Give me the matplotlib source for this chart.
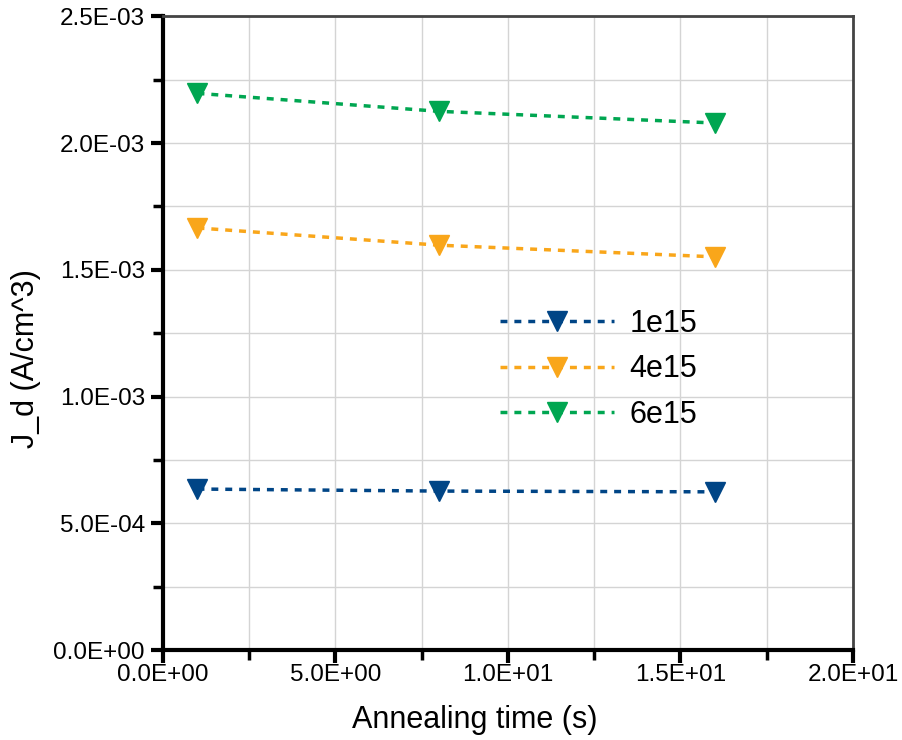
import matplotlib
matplotlib.use("Agg")
import matplotlib.pyplot as plt
from matplotlib.ticker import MultipleLocator, FormatStrFormatter

plt.rcParams['font.family'] = ['Liberation Sans', 'DejaVu Sans']

# annealing time (s)
anneal_time = [1, 8, 16]

# dark current density per fluence
jd_1e15 = [6.35e-4, 6.27e-4, 6.24e-4]
jd_4e15 = [1.665e-3, 1.597e-3, 1.551e-3]
jd_6e15 = [2.196e-3, 2.125e-3, 2.079e-3]

labels = ['1e15', '4e15', '6e15']
colors = ['#004586', '#f9a61a', '#00a651']

fig = plt.figure(figsize=(9.03, 7.40), dpi=100)
ax = fig.add_axes([0.1805, 0.1216, 0.7641, 0.8564])

for y, lab, c in zip([jd_1e15, jd_4e15, jd_6e15], labels, colors):
    ax.plot(anneal_time, y, linestyle=(0, (2, 2)), linewidth=2.5, color=c,
            marker='v', markersize=14, label=lab, zorder=3)

ax.set_xlim(0, 20)
ax.set_ylim(0, 2.5e-3)
ax.xaxis.set_major_locator(MultipleLocator(5))
ax.xaxis.set_minor_locator(MultipleLocator(2.5))
ax.yaxis.set_major_locator(MultipleLocator(5e-4))
ax.yaxis.set_minor_locator(MultipleLocator(2.5e-4))
ax.xaxis.set_major_formatter(FormatStrFormatter('%.1E'))
ax.yaxis.set_major_formatter(FormatStrFormatter('%.1E'))

ax.grid(True, which='both', color='#d4d4d4', linewidth=1, zorder=0)
ax.set_axisbelow(True)

ax.tick_params(which='major', direction='out', length=9, width=3, labelsize=17.5)
ax.tick_params(axis='y', which='major', pad=4)
ax.tick_params(axis='x', which='major', pad=1)
ax.tick_params(which='minor', direction='out', length=7, width=2.5)

for s in ['left', 'bottom']:
    ax.spines[s].set_linewidth(3)
    ax.spines[s].set_color('black')
for s in ['top', 'right']:
    ax.spines[s].set_linewidth(2)
    ax.spines[s].set_color('#444444')

ax.set_xlabel('Annealing time (s)', fontsize=22)
ax.set_ylabel('J_d (A/cm^3)', fontsize=22)
# labels in the original sit a little off-centre
ax.xaxis.set_label_coords(0.452, -0.086)
ax.yaxis.set_label_coords(-0.177, 0.46)

ax.legend(loc='upper left', bbox_to_anchor=(0.488, 0.538), frameon=False,
          fontsize=22, handlelength=3.75, handletextpad=0.5, labelspacing=0.5,
          borderpad=0, borderaxespad=0)

fig.savefig('out.png', dpi=100)
